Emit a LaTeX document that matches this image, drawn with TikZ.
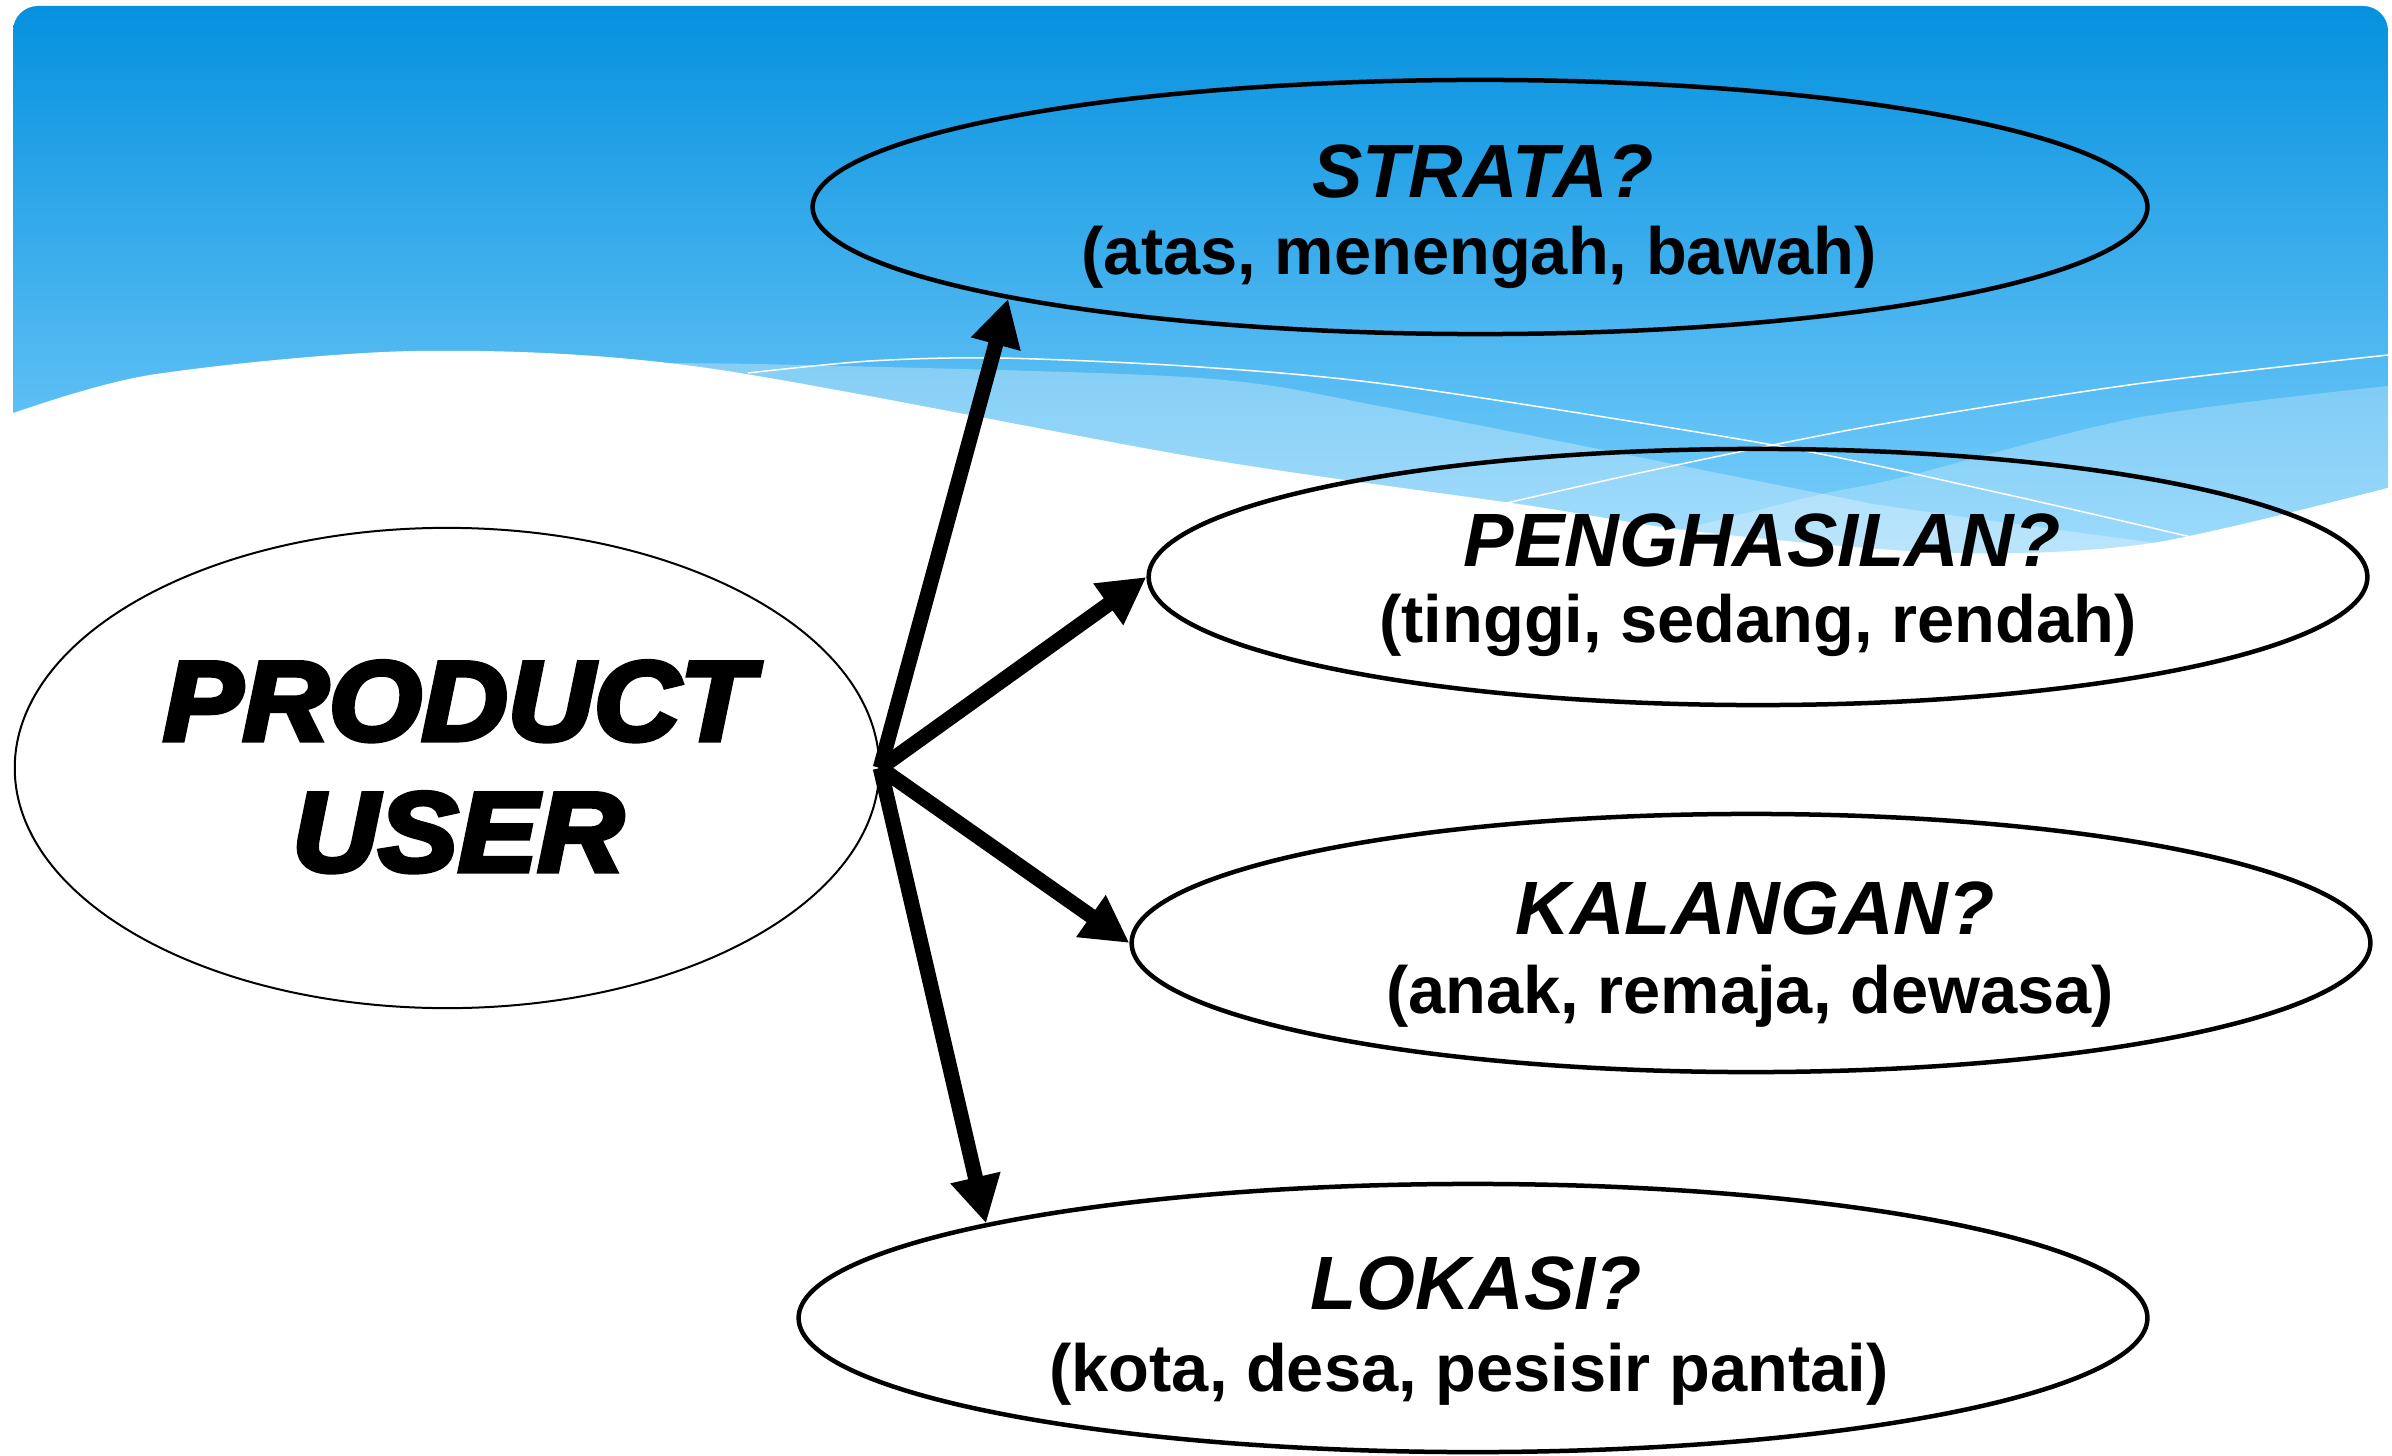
\documentclass[tikz,border=0pt]{standalone}
\usepackage{fontspec}
\setmainfont{Liberation Sans}
\newfontfamily\heavyfont{Liberation Sans}[BoldItalicFeatures={FakeBold=4.5,FakeStretch=1.06}]
\usetikzlibrary{arrows.meta,shapes.geometric}
\definecolor{skytop}{RGB}{5,145,223}
\definecolor{skybot}{RGB}{125,208,252}
\begin{document}
\begin{tikzpicture}[x=0.01cm,y=-0.01cm,
  oval/.style={draw=black, ellipse, line width=0.45mm, inner sep=0pt},
  ttl/.style={anchor=base, font=\fontsize{21.5}{26}\selectfont\bfseries\itshape, inner sep=0pt},
  sub/.style={anchor=base, font=\fontsize{19}{23}\selectfont\bfseries, inner sep=0pt},
  big/.style={anchor=base, font=\heavyfont\fontsize{32}{38}\selectfont\bfseries\itshape, inner sep=0pt},
  arr/.style={line width=1.5mm, -{Triangle[length=4.7mm,width=4.8mm]}},
  wline/.style={white, line width=0.15mm},
]
\useasboundingbox (0,0) rectangle (2392,1455);
\fill[white] (0,0) rectangle (2392,1455);
% background
\begin{scope}
\clip[rounded corners=0.25cm] (13,6) rectangle (2388,700);
\shade[top color=skytop, bottom color=skybot] (13,6) rectangle (2388,560);
\fill[white, opacity=0.3] plot[smooth] coordinates {(640,363) (800,365) (1200,378) (1400,410) (1818,493) (1900,508) (2156,543)} -- (2156,640) -- (640,640) -- cycle;
\fill[white, opacity=0.25] plot[smooth] coordinates {(1660,535) (1818,495) (1900,478) (2136,418) (2388,386)} -- (2400,386) -- (2400,640) -- (1660,640) -- cycle;
\draw[wline] plot[smooth] coordinates {(748,373) (870,361) (1000,358) (1200,367) (1400,386) (1773,445) (2000,493) (2191,537)};
\draw[wline] plot[smooth] coordinates {(1485,508) (1630,475) (1773,445) (1900,421) (2136,384) (2388,355)};
\fill[white] plot[smooth] coordinates {(5,416) (150,375) (415,351) (700,367) (1200,458) (1525,505) (1700,532) (1950,553) (2152,543) (2395,486)} -- (2395,700) -- (5,700) -- cycle;
\end{scope}
% ellipses
\node[oval, line width=0.2mm, minimum width=8.64cm, minimum height=4.80cm] (prod) at (447,768) {};
\node[oval, minimum width=13.34cm, minimum height=2.54cm] (strata) at (1480,207) {};
\node[oval, minimum width=12.18cm, minimum height=2.56cm] (peng) at (1758,577) {};
\node[oval, minimum width=12.38cm, minimum height=2.58cm] (kal) at (1751,943) {};
\node[oval, minimum width=13.48cm, minimum height=2.68cm] (lok) at (1473,1318) {};
% texts
\node[big] (tprod) at (458,740) {PRODUCT};
\node[big] (tuser) at (458,871) {USER};
\node[ttl] (tstrata) at (1483,198) {STRATA?};
\node[sub] (sstrata) at (1479,275) {(atas, menengah, bawah)};
\node[ttl] (tpeng) at (1762,566) {PENGHASILAN?};
\node[sub] (speng) at (1758,642) {(tinggi, sedang, rendah)};
\node[ttl] (tkal) at (1755,934) {KALANGAN?};
\node[sub] (skal) at (1750,1013) {(anak, remaja, dewasa)};
\node[ttl] (tlok) at (1476,1309) {LOKASI?};
\node[sub] (slok) at (1469,1391) {(kota, desa, pesisir pantai)};
% arrows
\coordinate (hub) at (prod.east);
\draw[arr] (hub) -- (strata.191);
\draw[arr] (hub) -- (peng.west);
\draw[arr] (hub) -- (kal.west);
\draw[arr] (hub) -- (lok.169);
\end{tikzpicture}
\end{document}
